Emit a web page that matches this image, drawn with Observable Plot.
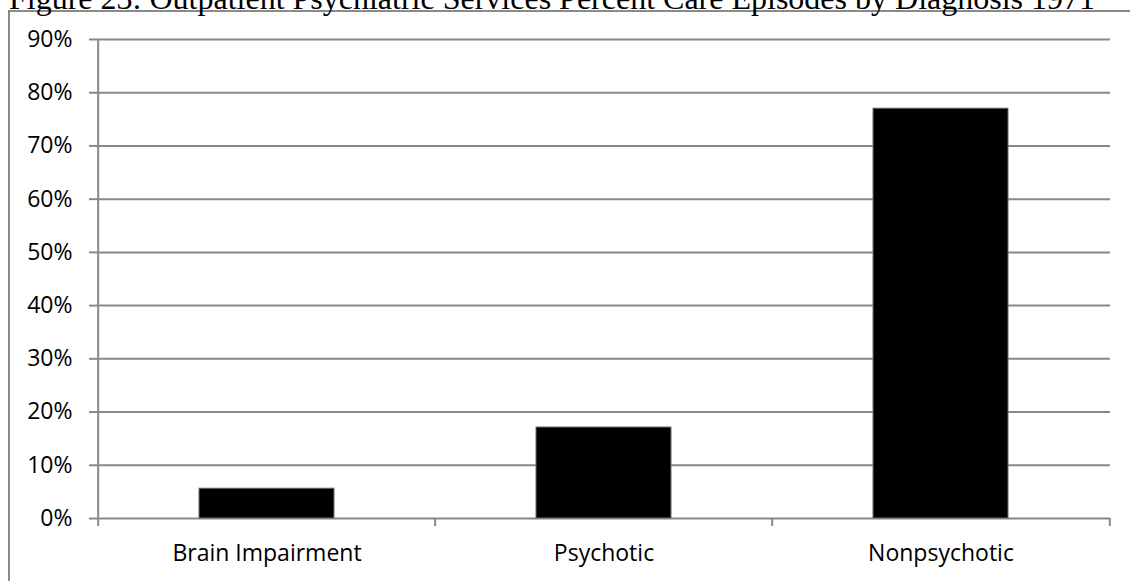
<!DOCTYPE html>
<html>
<head>
<meta charset="utf-8">
<script src="https://cdn.jsdelivr.net/npm/d3@7"></script>
<script src="https://cdn.jsdelivr.net/npm/@observablehq/plot@0.6"></script>
<style>
  html, body { margin: 0; padding: 0; background: #fff; overflow: hidden; }
  #page { position: relative; width: 1130px; height: 581px; overflow: hidden; }
  #title {
    position: absolute; left: 9px; top: 0; white-space: nowrap;
    font-family: "Liberation Serif", "Times New Roman", serif; font-size: 32px;
    line-height: 32px; transform: translateY(-18px); color: #000;
  }
  #frame {
    position: absolute; left: 8px; top: 10px; width: 1140px; height: 600px;
    border: 2px solid #8a8a8a; box-sizing: border-box;
  }
  #chart { position: absolute; left: 0; top: 0; }
</style>
</head>
<body>
<div id="page">
  <div id="frame"></div>
  <div id="title">Figure 23: Outpatient Psychiatric Services Percent Care Episodes by Diagnosis 1971</div>
  <div id="chart"></div>
</div>
<script>
// Percent of care episodes by diagnosis, 1971
const categories = ["Brain Impairment", "Psychotic", "Nonpsychotic"];
const percents = [0.056, 0.171, 0.770];
const yTicks = [0, 0.1, 0.2, 0.3, 0.4, 0.5, 0.6, 0.7, 0.8, 0.9];

const rows = categories.map((c, i) => ({category: c, value: percents[i]}));

const W = 1130, H = 581;
const mL = 97, mR = 20, mT = 39, mB = 63;
const padIn = 0.6, padOut = 0.3;
const step = (W - mL - mR) / (categories.length - padIn + 2 * padOut);
const gridColor = "#888888";
const font = "'Open Sans', Lato, sans-serif";

const chart = Plot.plot({
  width: W,
  height: H,
  marginLeft: mL,
  marginRight: mR,
  marginTop: mT,
  marginBottom: mB,
  style: {background: "transparent", fontFamily: font, fontSize: "23px", color: "#000"},
  x: {domain: categories, paddingInner: padIn, paddingOuter: padOut, label: null},
  y: {domain: [0, 0.9], label: null},
  marks: [
    // horizontal gridlines
    Plot.gridY(yTicks, {stroke: gridColor, strokeWidth: 2, strokeOpacity: 1}),
    // vertical value axis line
    Plot.ruleX([categories[0]], {x: d => d, dx: -step / 2, y1: 0, y2: 0.9, stroke: gridColor, strokeWidth: 2}),
    // tick marks at the category boundaries
    Plot.ruleX(categories, {x: d => d, dx: -step / 2, y1: 0, y2: 0, insetBottom: -8, stroke: gridColor, strokeWidth: 2}),
    Plot.ruleX([categories[categories.length - 1]], {x: d => d, dx: step / 2, y1: 0, y2: 0, insetBottom: -8, stroke: gridColor, strokeWidth: 2}),
    Plot.barY(rows, {x: "category", y: "value", fill: "#000", stroke: "#6e6e6e", strokeWidth: 1}),
    Plot.axisY(yTicks, {tickFormat: d3.format(".0%"), tickSize: 8, tickPadding: 17,
      stroke: gridColor, strokeWidth: 2, strokeOpacity: 1, fill: "#000"}),
    Plot.axisX({tickSize: 0, tickPadding: 26, fill: "#000"})
  ]
});
document.getElementById("chart").appendChild(chart);
</script>
</body>
</html>
